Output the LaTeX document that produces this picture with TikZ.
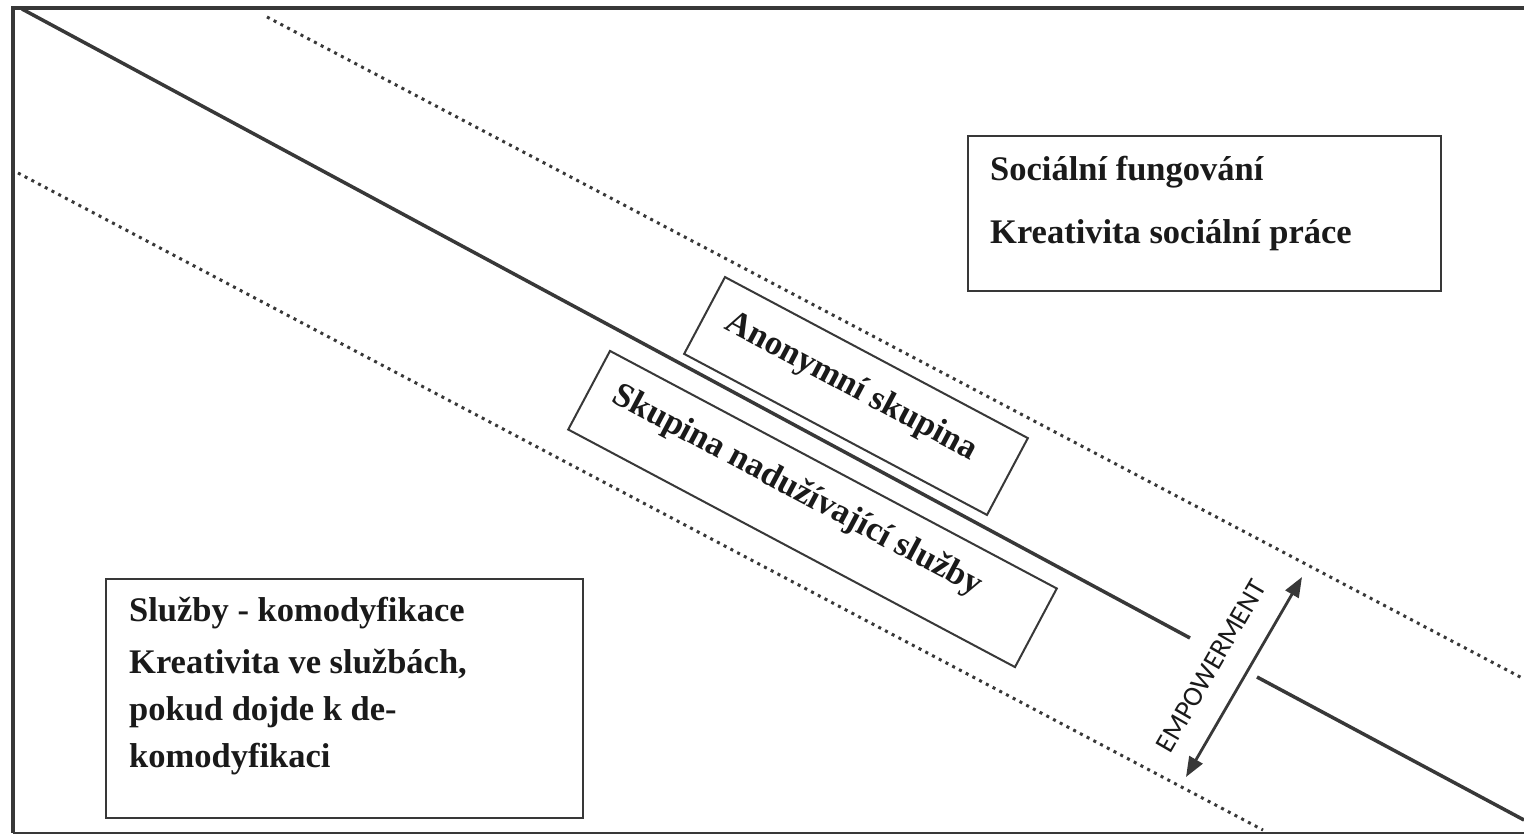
\documentclass[tikz,border=0pt]{standalone}
\usepackage{fontspec}
\setmainfont{Liberation Serif}
\newfontfamily\empfont{Carlito}
\usetikzlibrary{arrows.meta,calc}
\definecolor{ink}{HTML}{383838}
\definecolor{txt}{HTML}{1A1A1A}
\begin{document}
\begin{tikzpicture}[x=1pt,y=-1pt,
  frameline/.style={ink, line width=3.5pt},
  mainline/.style={ink, line width=3.5pt},
  dotline/.style={ink, line width=3pt, dash pattern=on 3pt off 4.6pt},
  boxnode/.style={draw=ink, line width=2pt, rectangle, inner sep=0pt, fill=white},
  bigtext/.style={text=txt, font=\fontsize{34.5}{47}\selectfont\bfseries, inner sep=0pt, align=left},
  emptext/.style={text=txt, font=\empfont\fontsize{28}{30}\selectfont, inner sep=0pt},
  twoarrow/.style={ink, line width=2.8pt, {Triangle[length=20pt,width=15pt]}-{Triangle[length=20pt,width=15pt]}}
]
\useasboundingbox (0,0) rectangle (1524,835);
\fill[white] (0,0) rectangle (1524,835);

% frame
\coordinate (fTR) at (1524,8);
\coordinate (fTL) at (13,8);
\coordinate (fBL) at (13,833);
\coordinate (fBR) at (1524,833);
\draw[frameline] (fTR) -- (fTL) -- (fBL);
\draw[ink, line width=2pt] (fBL) -- (fBR);

% main diagonal line (broken)
\coordinate (m1) at (22,9);
\coordinate (m2) at (1190,638);
\coordinate (m3) at (1257,677);
\coordinate (m4) at (1524,820);
\draw[mainline] (m1) -- (m2);
\draw[mainline] (m3) -- (m4);

% dotted lines
\coordinate (u1) at (267,17);
\coordinate (u2) at (1524,679);
\coordinate (l1) at (18,173);
\coordinate (l2) at (1263,830);
\draw[dotline] (u1) -- (u2);
\draw[dotline] (l1) -- (l2);

% rotated boxes
\node[boxnode, minimum width=343pt, minimum height=87pt, rotate=-28] (ano) at (856,396) {};
\node[bigtext, rotate=-28] (anotext) at (851,387) {Anonymní skupina};
\node[boxnode, minimum width=506pt, minimum height=89pt, rotate=-28] (sku) at (812.5,509) {};
\node[bigtext, rotate=-28] (skutext) at (797,491) {Skupina nadužívající služby};

% right box
\node[boxnode, minimum width=473pt, minimum height=155pt, anchor=north west] (rbox) at (967,135) {};
\node[bigtext, anchor=base west] (rtext) at (990,243) {Sociální fungování\\[16pt]Kreativita sociální práce};

% left box
\node[boxnode, minimum width=477pt, minimum height=239pt, anchor=north west] (lbox) at (105,578) {};
\node[bigtext, anchor=base west] (ltext) at (129,767) {Služby - komodyfikace\\[5pt]Kreativita ve službách,\\pokud dojde k de-\\komodyfikaci};

% empowerment arrow
\coordinate (e1) at (1186,777);
\coordinate (e2) at (1302,577);
\draw[twoarrow] (e1) -- (e2);
\node[emptext, rotate=60] (emp) at (1211,666) {EMPOWERMENT};
\end{tikzpicture}
\end{document}
